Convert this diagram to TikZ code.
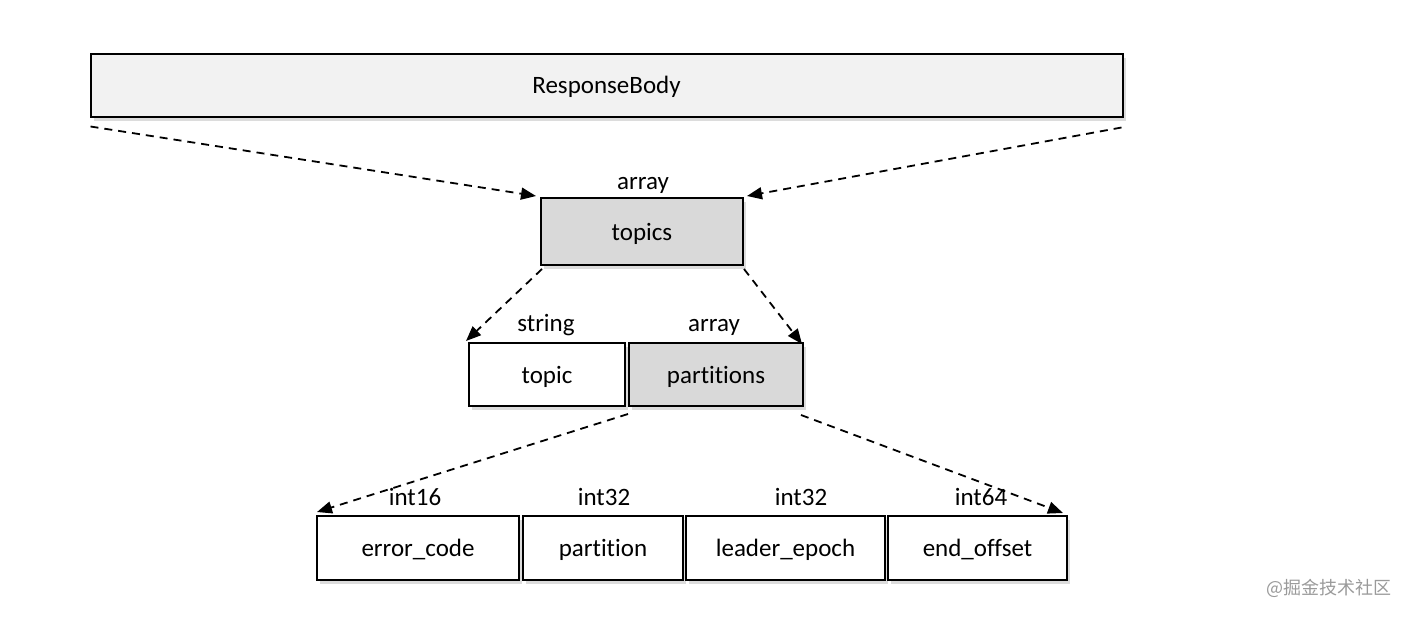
\documentclass[tikz,border=0pt]{standalone}
\usepackage{fontspec}
\setmainfont{Carlito}[Ligatures={NoCommon}]
\newfontfamily\cjkfont{Noto Sans CJK SC}
\usetikzlibrary{arrows.meta,shadows}
\definecolor{lightfill}{HTML}{F2F2F2}
\definecolor{darkfill}{HTML}{D9D9D9}
\definecolor{wmgray}{HTML}{9A9A9A}
\tikzset{
  field/.style={draw=black, line width=2pt, fill=white, inner sep=0pt,
    font=\fontsize{25}{30}\selectfont, text height=20pt, text depth=3pt,
    drop shadow={shadow xshift=3pt, shadow yshift=-4pt, opacity=0.28, fill=gray}},
  typelabel/.style={font=\fontsize{25}{30}\selectfont, inner sep=0pt, anchor=base},
  link/.style={dashed, dash pattern=on 8pt off 6pt, line width=1.8pt,
    -{Triangle[length=15pt,width=12pt]}}
}
\begin{document}
\begin{tikzpicture}[x=1pt,y=-1pt]
\useasboundingbox (0,0) rectangle (1410,616);
% boxes
\node[field, fill=lightfill, minimum width=1032pt, minimum height=63pt] (rb) at (606.5,85) {ResponseBody};
\node[field, fill=darkfill, minimum width=202pt, minimum height=67pt] (topics) at (642,231.5) {topics};
\node[field, minimum width=156pt, minimum height=63pt] (topic) at (547,374.5) {topic};
\node[field, fill=darkfill, minimum width=174pt, minimum height=63pt] (parts) at (716,374.5) {partitions};
\node[field, minimum width=202pt, minimum height=64pt] (ec) at (418,548) {error\_code};
\node[field, minimum width=160pt, minimum height=64pt] (pt) at (603,548) {partition};
\node[field, minimum width=199pt, minimum height=64pt] (le) at (785.5,548) {leader\_epoch};
\node[field, minimum width=179pt, minimum height=64pt] (eo) at (977.5,548) {end\_offset};
% type labels
\node[typelabel] (l1) at (643,189) {array};
\node[typelabel] (l2) at (546,331) {string};
\node[typelabel] (l3) at (714,331) {array};
\node[typelabel] (l4) at (415,505) {int16};
\node[typelabel] (l5) at (604,505) {int32};
\node[typelabel] (l6) at (801,505) {int32};
\node[typelabel] (l7) at (981,505) {int64};
% connectors
\draw[link] ([xshift=1pt,yshift=-9pt]rb.south west) -- ([xshift=-4pt,yshift=1pt]topics.north west);
\draw[link] ([xshift=-2pt,yshift=-10pt]rb.south east) -- ([xshift=3pt,yshift=1pt]topics.north east);
\draw[link] ([xshift=2pt,yshift=-3pt]topics.south west) -- ([xshift=-2pt,yshift=1pt]topic.north west);
\draw[link] ([xshift=0pt,yshift=-3pt]topics.south east) -- ([xshift=-2pt,yshift=-2pt]parts.north east);
\draw[link] ([xshift=0pt,yshift=-7pt]parts.south west) -- ([xshift=1pt,yshift=3pt]ec.north west);
\draw[link] ([xshift=-3pt,yshift=-8pt]parts.south east) -- ([xshift=-5pt,yshift=2pt]eo.north east);
% watermark
\node[font=\cjkfont\fontsize{18}{21}\selectfont, text=wmgray, inner sep=0pt] (wm) at (1329,588) {@掘金技术社区};
\end{tikzpicture}
\end{document}
